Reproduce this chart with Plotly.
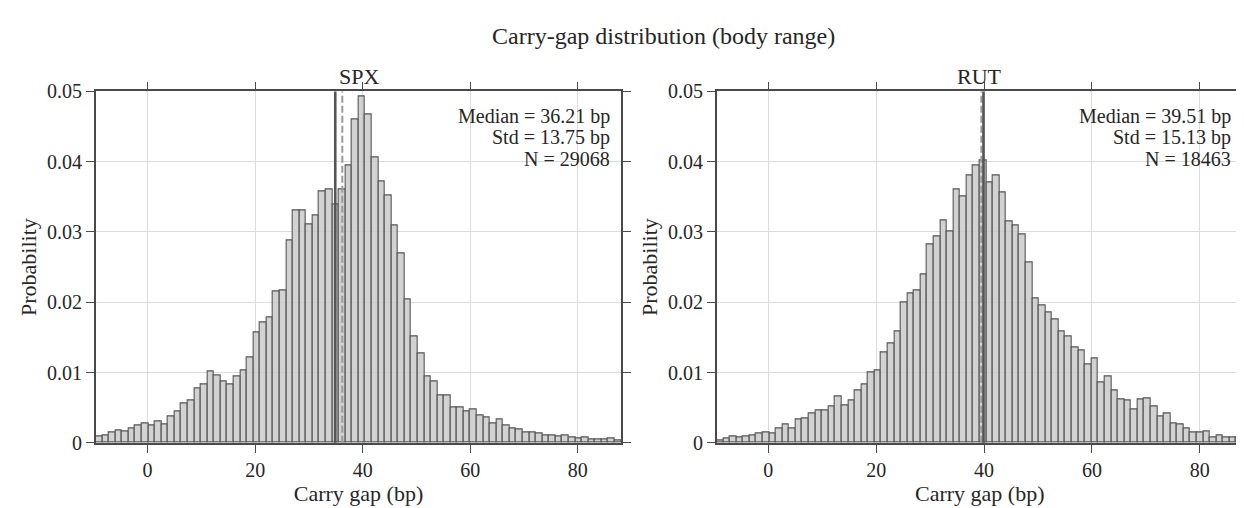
import plotly.graph_objects as go

# ---------------- data ----------------
panel_names = ["SPX", "RUT"]

# histogram ranges (bp) and bin count
spx_range = [-9.65, 88.1]
rut_range = [-9.55, 87.95]
n_bins = 80

spx_prob = [0.0009, 0.0010, 0.00145, 0.0017, 0.0016, 0.0020, 0.0025, 0.0027, 0.0025, 0.0031,
            0.0026, 0.0037, 0.0044, 0.0056, 0.0061, 0.0077, 0.0083, 0.0101, 0.0096, 0.0088,
            0.0083, 0.0094, 0.0103, 0.0121, 0.0157, 0.0171, 0.0179, 0.0215, 0.0217, 0.0288,
            0.0331, 0.0331, 0.0311, 0.0323, 0.0358, 0.0361, 0.0339, 0.0361, 0.0395, 0.0460,
            0.0493, 0.0467, 0.0406, 0.0372, 0.0352, 0.0310, 0.0270, 0.0204, 0.0151, 0.0127,
            0.0094, 0.0088, 0.0067, 0.0067, 0.0050, 0.0050, 0.0045, 0.0048, 0.0039, 0.0036,
            0.0028, 0.0033, 0.0025, 0.0020, 0.0019, 0.0015, 0.0015, 0.0014, 0.0010, 0.0011,
            0.0009, 0.0010, 0.0008, 0.0006, 0.0007, 0.0005, 0.0005, 0.0005, 0.0006, 0.0003]

rut_prob = [0.0003, 0.0006, 0.0009, 0.0008, 0.0009, 0.0011, 0.0013, 0.0015, 0.0014, 0.0020,
            0.0026, 0.0020, 0.0034, 0.0035, 0.0042, 0.0046, 0.0046, 0.0052, 0.0066, 0.0053,
            0.0060, 0.0074, 0.0083, 0.0100, 0.0103, 0.0128, 0.0141, 0.0159, 0.0200, 0.0213,
            0.0217, 0.0240, 0.0283, 0.0294, 0.0317, 0.0301, 0.0361, 0.0351, 0.0380, 0.0395,
            0.0402, 0.0370, 0.0380, 0.0357, 0.0315, 0.0310, 0.0296, 0.0256, 0.0206, 0.0195,
            0.0186, 0.0176, 0.0159, 0.0151, 0.0136, 0.0132, 0.0112, 0.0120, 0.0086, 0.0095,
            0.0075, 0.0062, 0.0061, 0.0048, 0.0062, 0.0063, 0.0052, 0.0038, 0.0042, 0.0027,
            0.0026, 0.0020, 0.0015, 0.0015, 0.0016, 0.0008, 0.0011, 0.0008, 0.0008, 0.0007]

spx_mean, spx_median, spx_std, spx_n = 34.9, 36.21, 13.75, 29068
rut_mean, rut_median, rut_std, rut_n = 39.9, 39.51, 15.13, 18463

x_ticks = [0, 20, 40, 60, 80]
y_ticks = [0, 0.01, 0.02, 0.03, 0.04, 0.05]
y_ticklabels = ["0", "0.01", "0.02", "0.03", "0.04", "0.05"]

# ---------------- figure ----------------
W, H = 1244, 508
FONT = "Liberation Serif"
TXT = "#262626"
AX = "#4a4a4a"

panels = [
    dict(name="SPX", rng=spx_range, prob=spx_prob, mean=spx_mean, median=spx_median,
         std=spx_std, n=spx_n, xa="x", ya="y", dom=[88 / W, 615.3 / W]),
    dict(name="RUT", rng=rut_range, prob=rut_prob, mean=rut_mean, median=rut_median,
         std=rut_std, n=rut_n, xa="x2", ya="y2", dom=[711 / W, 1238.7 / W]),
]
ydom = [1 - 443 / H, 1 - 75.7 / H]

fig = go.Figure()
shapes, annotations = [], []

for i, p in enumerate(panels):
    lo, hi = p["rng"]
    w = (hi - lo) / n_bins
    centers = [lo + w * (k + 0.5) for k in range(n_bins)]
    fig.add_trace(go.Bar(
        x=centers, y=p["prob"], width=w, xaxis=p["xa"], yaxis=p["ya"],
        marker=dict(color="rgba(200,200,200,0.82)", line=dict(color="#555555", width=1.1)),
        showlegend=False, name=p["name"]))
    xref = p["xa"]
    ydomref = ("y" if i == 0 else "y2") + " domain"
    # median (dashed) and mean (solid)
    shapes.append(dict(type="line", xref=xref, yref=ydomref, x0=p["median"], x1=p["median"],
                       y0=0, y1=1, line=dict(color="#9a9a9a", width=2, dash="7px,3px")))
    shapes.append(dict(type="line", xref=xref, yref=ydomref, x0=p["mean"], x1=p["mean"],
                       y0=0, y1=1, line=dict(color="#555555", width=2.6)))
    # subplot title
    xc = (p["dom"][0] + p["dom"][1]) / 2
    annotations.append(dict(text=p["name"], xref="paper", yref="paper", x=xc, y=1 - 60 / H,
                            xanchor="center", yanchor="middle", showarrow=False,
                            font=dict(family=FONT, size=22, color=TXT)))
    # stats text
    xr = p["dom"][1] - 9.6 / W
    lines = [f"Median = {p['median']:.2f} bp", f"Std = {p['std']:.2f} bp", f"N = {p['n']}"]
    for j, t in enumerate(lines):
        annotations.append(dict(text=t, xref="paper", yref="paper", x=xr,
                                y=1 - (101.7 + 22.5 * j) / H,
                                xanchor="right", yanchor="middle", showarrow=False,
                                font=dict(family=FONT, size=20, color=TXT)))

annotations.append(dict(text="Carry-gap distribution (body range)", xref="paper", yref="paper",
                        x=658 / W, y=1 - 18 / H, xanchor="center", yanchor="middle",
                        showarrow=False, font=dict(family=FONT, size=24, color=TXT)))

def xaxis(dom, rng, anchor):
    return dict(domain=dom, range=rng, anchor=anchor, tickvals=x_ticks,
                ticks="outside", ticklen=8, tickwidth=1.3, tickcolor=AX,
                showline=True, linecolor=AX, linewidth=1.6, mirror="ticks",
                showgrid=True, gridcolor="#dcdcdc", gridwidth=1.4, zeroline=False,
                tickfont=dict(family=FONT, size=20, color=TXT),
                title=dict(text="Carry gap (bp)", standoff=4,
                           font=dict(family=FONT, size=22, color=TXT)))

def yaxis(anchor):
    return dict(domain=ydom, range=[0, 0.05], anchor=anchor, tickvals=y_ticks,
                ticktext=y_ticklabels, ticks="outside", ticklen=8, tickwidth=1.3,
                tickcolor=AX, showline=True, linecolor=AX, linewidth=1.6, mirror="ticks",
                showgrid=True, gridcolor="#dcdcdc", gridwidth=1.4, zeroline=False,
                tickfont=dict(family=FONT, size=20, color=TXT),
                title=dict(text="Probability", standoff=4,
                           font=dict(family=FONT, size=22, color=TXT)))

fig.update_layout(
    width=W, height=H, margin=dict(l=0, r=0, t=0, b=0),
    paper_bgcolor="white", plot_bgcolor="white", bargap=0,
    xaxis=xaxis(panels[0]["dom"], spx_range, "y"),
    yaxis=yaxis("x"),
    xaxis2=xaxis(panels[1]["dom"], rut_range, "y2"),
    yaxis2=yaxis("x2"),
    shapes=shapes, annotations=annotations,
)

fig.write_html("out.html")
